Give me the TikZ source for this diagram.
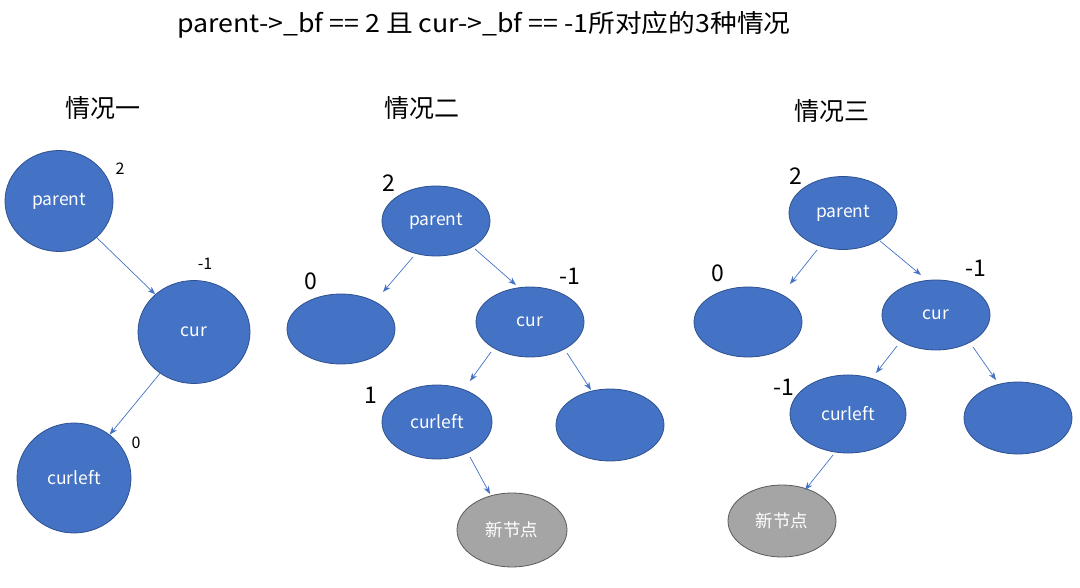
\documentclass[tikz,border=0pt]{standalone}
\usepackage{fontspec}
\setmainfont{Noto Sans CJK SC}
\usetikzlibrary{shapes.geometric,arrows.meta}
\definecolor{nodeblue}{HTML}{4472C4}
\definecolor{nodeedge}{HTML}{2F528F}
\definecolor{nodegray}{HTML}{A5A5A5}
\definecolor{grayedge}{HTML}{5A5A5A}
\tikzset{
  tnode/.style={ellipse, draw=nodeedge, line width=0.8pt, fill=nodeblue, text=white, inner sep=0pt, font=\fontsize{17.5}{20}\selectfont},
  newnode/.style={tnode, fill=nodegray, draw=grayedge},
  bfsmall/.style={font=\fontsize{16}{19}\selectfont, text=black},
  bfbig/.style={font=\fontsize{23}{27}\selectfont, text=black},
  heading/.style={font=\fontsize{25}{29}\selectfont, text=black},
  link/.style={draw=nodeblue, line width=0.7pt, -{Stealth[length=8pt,width=6pt]}}
}
\begin{document}
\begin{tikzpicture}[x=1pt,y=-1pt]
\useasboundingbox (0,0) rectangle (1080,588);
% title and headings
\node[heading] (title) at (484,25) {\addfontfeatures{FakeStretch=1.07}parent->\_bf == 2 且 cur->\_bf == -1所对应的3种情况};
\node[heading] (h1) at (103,108) {情况一};
\node[heading] (h2) at (422,108) {情况二};
\node[heading] (h3) at (832,111) {情况三};

% case 1
\node[tnode, minimum width=108pt, minimum height=101pt] (p1) at (59,201) {parent};
\node[tnode, minimum width=112pt, minimum height=103pt] (c1) at (194,332) {cur};
\node[tnode, minimum width=114pt, minimum height=110pt] (l1) at (74,478) {curleft};
\node[bfsmall] (bp1) at (120,169) {2};
\node[bfsmall] (bc1) at (205,264) {-1};
\node[bfsmall] (bl1) at (136,443) {0};
\draw[link] (p1) -- (c1);
\draw[link] (c1) -- (l1);

% case 2
\node[tnode, minimum width=108pt, minimum height=70pt] (p2) at (436,221) {parent};
\node[tnode, minimum width=108pt, minimum height=70pt] (a2) at (341,329) {};
\node[tnode, minimum width=108pt, minimum height=70pt] (c2) at (530,322) {cur};
\node[tnode, minimum width=110pt, minimum height=74pt] (l2) at (437,422) {curleft};
\node[tnode, minimum width=108pt, minimum height=72pt] (r2) at (610,425) {};
\node[newnode, minimum width=110pt, minimum height=74pt] (n2) at (512,530) {新节点};
\node[bfbig] (bp2) at (389,183) {2};
\node[bfbig] (ba2) at (311,281) {0};
\node[bfbig] (bc2) at (570,276) {-1};
\node[bfbig] (bl2) at (371,395) {1};
\coordinate (s21) at (413,257); \coordinate (e21) at (383,292);
\coordinate (s22) at (475,249); \coordinate (e22) at (516,285);
\coordinate (s23) at (491,352); \coordinate (e23) at (470,381);
\coordinate (s24) at (567,353); \coordinate (e24) at (591,390);
\coordinate (s25) at (470,457); \coordinate (e25) at (490,494);
\draw[link] (s21) -- (e21);
\draw[link] (s22) -- (e22);
\draw[link] (s23) -- (e23);
\draw[link] (s24) -- (e24);
\draw[link] (s25) -- (e25);

% case 3
\node[tnode, minimum width=108pt, minimum height=73pt] (p3) at (843,213) {parent};
\node[tnode, minimum width=108pt, minimum height=70pt] (a3) at (748,322) {};
\node[tnode, minimum width=108pt, minimum height=70pt] (c3) at (936,315) {cur};
\node[tnode, minimum width=116pt, minimum height=78pt] (l3) at (848,414) {curleft};
\node[tnode, minimum width=108pt, minimum height=72pt] (r3) at (1018,418) {};
\node[newnode, minimum width=108pt, minimum height=72pt] (n3) at (782,521) {新节点};
\node[bfbig] (bp3) at (796,176) {2};
\node[bfbig] (ba3) at (718,273) {0};
\node[bfbig] (bc3) at (976,268) {-1};
\node[bfbig] (bl3) at (784,387) {-1};
\coordinate (s31) at (817,250); \coordinate (e31) at (790,284);
\coordinate (s32) at (880,241); \coordinate (e32) at (921,275);
\coordinate (s33) at (897,346); \coordinate (e33) at (876,373);
\coordinate (s34) at (973,347); \coordinate (e34) at (996,380);
\coordinate (s35) at (833,455); \coordinate (e35) at (805,490);
\draw[link] (s31) -- (e31);
\draw[link] (s32) -- (e32);
\draw[link] (s33) -- (e33);
\draw[link] (s34) -- (e34);
\draw[link] (s35) -- (e35);
\end{tikzpicture}
\end{document}
